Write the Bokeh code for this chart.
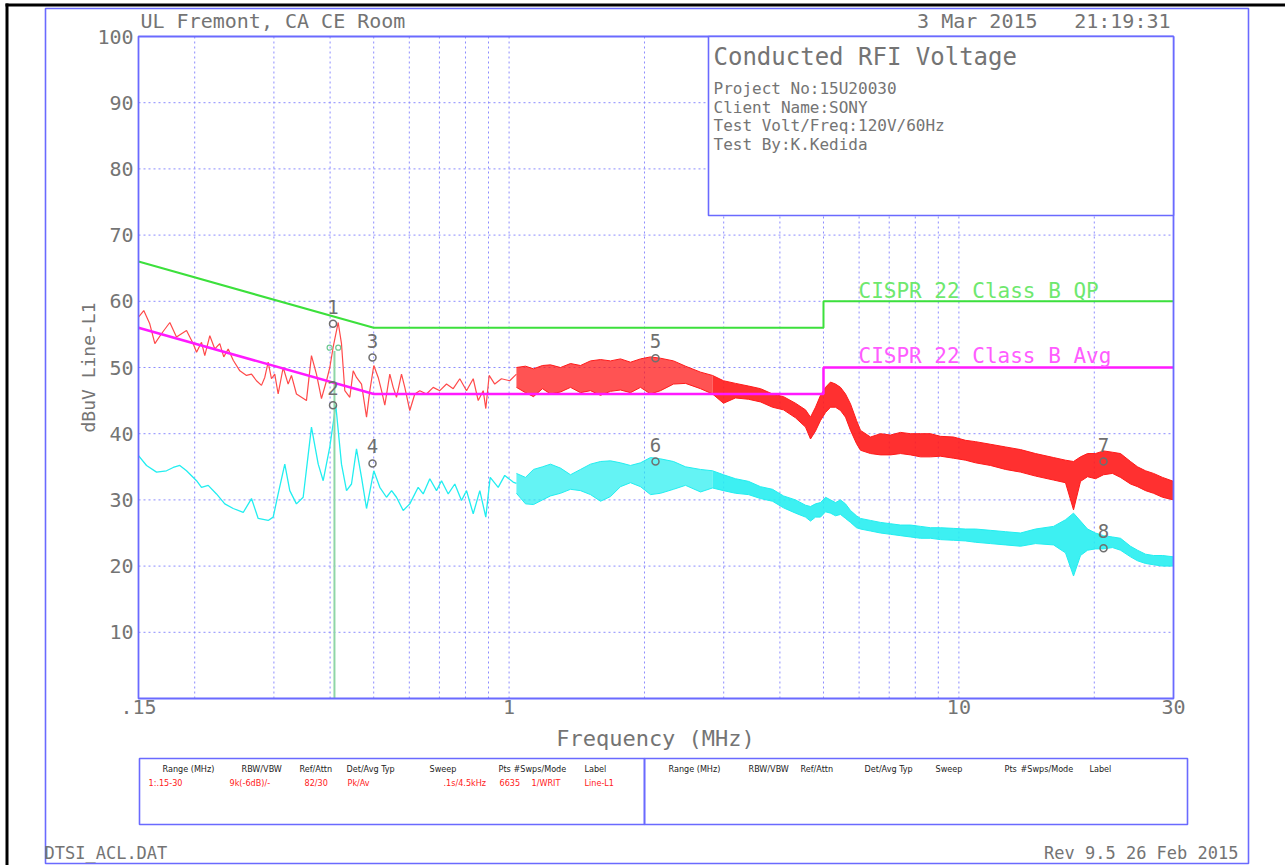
import math
from bokeh.plotting import figure
from bokeh.models import FixedTicker, Label, BoxAnnotation
from bokeh.embed import file_html
from bokeh.resources import INLINE
from bokeh.core.properties import value

# ---------------- data ----------------
freq_limits = [0.15, 30]
db_limits = [0, 100]
x_tick_values = [0.15, 1, 10, 30]
x_tick_labels = [".15", "1", "10", "30"]
x_minor_grid = [0.2, 0.3, 0.4, 0.5, 0.6, 0.7, 0.8, 0.9, 2, 3, 4, 5, 6, 7, 8, 9, 20]
y_tick_values = [0, 10, 20, 30, 40, 50, 60, 70, 80, 90, 100]
y_tick_labels = ["", "10", "20", "30", "40", "50", "60", "70", "80", "90", "100"]

qp_freq = [0.15, 0.5, 5.0, 5.0, 30.0]
qp_db = [66, 56, 56, 60, 60]
avg_freq = [0.15, 0.5, 5.0, 5.0, 30.0]
avg_db = [56, 46, 46, 50, 50]
qp_label = "CISPR 22 Class B QP"
avg_label = "CISPR 22 Class B Avg"

red_lf_freq = [0.150, 0.1541, 0.1589, 0.1631, 0.1687, 0.1761, 0.1822, 0.1918, 0.1985, 0.2019,
               0.2071, 0.2106, 0.2161, 0.2217, 0.2274, 0.2321, 0.2374, 0.2436, 0.2520, 0.2607,
               0.2675, 0.2744, 0.2815, 0.2863, 0.2913, 0.2963, 0.3013, 0.3066, 0.3146, 0.3227,
               0.3282, 0.3367, 0.3455, 0.3544, 0.3636, 0.3730, 0.3827, 0.3927, 0.3994, 0.4064,
               0.4169, 0.4240, 0.4313, 0.4425, 0.4502, 0.4579, 0.4698, 0.4820, 0.4902, 0.5003,
               0.5117, 0.5205, 0.5293, 0.5430, 0.5525, 0.5619, 0.5765, 0.5863, 0.6015, 0.6171,
               0.6331, 0.6552, 0.6781, 0.7014, 0.7259, 0.7512, 0.7770, 0.8042, 0.8322, 0.8538,
               0.8759, 0.8876, 0.9030, 0.9292, 0.9616, 1.0033, 1.0383]
red_lf_db = [57.6, 58.6, 56.6, 53.6, 55.1, 56.8, 54.6, 55.6, 53.6, 52.3,
             53.8, 51.8, 54.8, 52.8, 53.6, 51.6, 52.8, 51.1, 49.5, 48.8,
             49.0, 48.0, 47.3, 48.5, 50.8, 48.3, 49.0, 46.0, 50.0, 47.5,
             48.8, 46.0, 45.5, 45.0, 51.8, 49.0, 45.3, 48.0, 50.0, 53.1,
             56.8, 53.6, 46.5, 45.5, 49.5, 48.5, 47.5, 42.5, 46.5, 50.3,
             48.5, 46.5, 44.3, 49.0, 47.0, 45.5, 49.0, 47.0, 43.5, 46.0,
             46.5, 46.0, 47.0, 46.5, 47.5, 46.8, 48.3, 46.5, 48.3, 45.0,
             46.5, 43.8, 48.8, 47.5, 48.3, 48.0, 49.0]

cyan_lf_freq = [0.150, 0.1563, 0.1645, 0.1731, 0.1792, 0.1853, 0.1918, 0.2019, 0.2071, 0.2143,
                0.2236, 0.2333, 0.2436, 0.2564, 0.2675, 0.2768, 0.2913, 0.2989, 0.3066, 0.3172,
                0.3254, 0.3367, 0.3485, 0.3636, 0.3764, 0.3861, 0.3994, 0.4118, 0.4240, 0.4351,
                0.4463, 0.4579, 0.4698, 0.4820, 0.5003, 0.5159, 0.5339, 0.5480, 0.5619, 0.5815,
                0.6015, 0.6279, 0.6442, 0.6664, 0.6897, 0.7076, 0.7323, 0.7574, 0.7839, 0.8042,
                0.8322, 0.8608, 0.8876, 0.9078, 0.9457, 0.9780, 1.0209, 1.0383]
cyan_lf_db = [36.7, 35.2, 34.2, 34.4, 34.9, 35.2, 34.4, 32.9, 31.9, 32.2,
              30.9, 29.4, 28.7, 28.1, 30.2, 27.2, 26.9, 27.4, 30.9, 35.4,
              31.4, 29.4, 30.4, 41.0, 35.4, 32.9, 38.0, 44.3, 35.4, 31.4,
              32.4, 37.7, 33.4, 28.7, 34.4, 31.9, 30.4, 31.4, 30.4, 28.4,
              29.4, 31.9, 30.9, 33.2, 31.4, 32.9, 30.9, 32.4, 29.9, 31.4,
              27.9, 31.4, 27.4, 33.4, 31.9, 33.7, 32.7, 32.5]

hf_freq = [1.0383, 1.0876, 1.1331, 1.1865, 1.2361, 1.3011, 1.3694, 1.4413, 1.5170, 1.5967,
           1.6805, 1.7688, 1.8617, 1.9595, 2.0624, 2.1707, 2.3202, 2.4672, 2.6641, 2.8329,
           2.9969, 3.1868, 3.4061, 3.6220, 3.8516, 4.0748, 4.3329, 4.5605, 4.6787, 4.8000,
           4.9246, 5.0522, 5.1831, 5.3175, 5.4554, 5.5968, 5.7420, 5.9211, 6.0435, 6.3609,
           6.6950, 7.0467, 7.4168, 7.8063, 8.2162, 8.6478, 9.1019, 9.7283, 10.345, 10.888,
           11.757, 12.695, 13.708, 14.803, 16.231, 17.260, 17.982, 18.638, 19.318, 20.125,
           20.967, 21.955, 22.873, 24.075, 24.953, 25.996, 27.083, 28.360, 30.0]
red_hf_hi = [50.0, 50.2, 49.8, 50.3, 50.4, 50.0, 50.6, 50.3, 51.0, 51.2,
             51.0, 51.3, 50.8, 51.3, 51.6, 51.4, 51.0, 50.2, 49.3, 48.8,
             48.0, 47.6, 47.2, 46.8, 46.0, 45.6, 44.6, 43.6, 42.5, 44.0,
             45.8, 47.0, 47.8, 47.5, 47.0, 46.0, 44.5, 42.0, 40.5, 39.5,
             40.0, 39.8, 40.2, 40.0, 40.0, 40.0, 39.6, 39.5, 39.0, 38.8,
             38.4, 38.0, 37.6, 37.0, 36.4, 36.0, 35.8, 36.5, 37.0, 37.0,
             37.4, 37.2, 37.0, 35.8, 35.0, 34.4, 34.0, 33.4, 32.8]
red_hf_lo = [47.0, 46.2, 45.6, 46.8, 46.0, 46.3, 47.0, 46.2, 46.5, 45.8,
             46.4, 46.6, 46.2, 47.0, 46.0, 46.5, 47.5, 47.6, 46.8, 46.0,
             44.6, 45.4, 45.2, 44.8, 44.0, 43.6, 42.4, 41.0, 39.2, 40.4,
             42.0, 43.2, 44.0, 44.0, 43.5, 42.5, 40.5, 38.5, 37.5, 37.0,
             36.8, 36.8, 37.0, 36.8, 36.5, 36.5, 36.6, 36.3, 36.0, 35.6,
             35.2, 34.6, 34.2, 33.6, 33.0, 32.6, 28.5, 32.8, 33.5, 33.2,
             33.8, 34.0, 33.4, 32.4, 32.0, 31.4, 31.0, 30.4, 30.0]
cyan_hf_hi = [34.0, 33.4, 34.6, 35.0, 35.4, 34.8, 33.8, 34.6, 35.4, 35.8,
              35.9, 35.6, 35.2, 35.6, 36.4, 36.2, 35.8, 35.0, 34.6, 34.4,
              33.8, 33.2, 32.8, 32.0, 31.6, 30.6, 30.0, 29.2, 29.0, 29.4,
              29.6, 30.4, 30.0, 29.6, 30.0, 29.4, 28.4, 27.6, 27.2, 26.9,
              26.6, 26.4, 26.2, 26.2, 26.0, 25.8, 25.8, 25.7, 25.6, 25.6,
              25.4, 25.2, 25.0, 25.6, 26.0, 27.0, 28.0, 26.8, 25.6, 25.0,
              24.6, 24.4, 24.2, 23.0, 22.4, 21.8, 21.6, 21.6, 21.4]
cyan_hf_lo = [31.0, 29.4, 29.3, 30.0, 30.6, 31.0, 31.6, 31.4, 30.8, 29.8,
              30.5, 32.0, 32.6, 32.0, 30.8, 31.0, 31.6, 32.2, 31.2, 31.8,
              31.4, 31.0, 30.8, 30.2, 29.8, 28.8, 28.0, 27.4, 26.8, 27.4,
              27.4, 28.2, 28.0, 27.6, 27.8, 27.2, 26.6, 25.8, 25.6, 25.3,
              25.0, 24.8, 24.6, 24.4, 24.2, 24.2, 24.0, 23.9, 23.8, 23.6,
              23.4, 23.2, 23.0, 23.4, 23.2, 22.0, 18.5, 21.6, 22.4, 22.6,
              22.6, 22.8, 22.4, 21.4, 20.8, 20.4, 20.2, 20.0, 20.0]

marker_ids = ["1", "2", "3", "4", "5", "6", "7", "8"]
marker_freq = [0.406, 0.406, 0.497, 0.497, 2.116, 2.116, 20.97, 20.97]
marker_db = [56.6, 44.3, 51.5, 35.5, 51.4, 35.8, 35.8, 22.7]
cursor_freq = [0.409, 0.409]
cursor_db = [0.0, 52.5]
qp_mark_freq = [0.399, 0.417]
qp_mark_db = [53.0, 53.0]

header_left = "UL Fremont, CA CE Room"
header_date = "3 Mar 2015"
header_time = "21:19:31"
info_title = "Conducted RFI Voltage"
info_lines = ["Project No:15U20030", "Client Name:SONY", "Test Volt/Freq:120V/60Hz", "Test By:K.Kedida"]
x_axis_title = "Frequency (MHz)"
y_axis_title = "dBuV Line-L1"
table_headers = ["Range (MHz)", "RBW/VBW", "Ref/Attn", "Det/Avg Typ", "Sweep", "Pts", "#Swps/Mode", "Label"]
table_row1 = ["1:.15-30", "9k(-6dB)/-", "82/30", "Pk/Av", ".1s/4.5kHz", "6635", "1/WRIT", "Line-L1"]
footer_left = "DTSI_ACL.DAT"
footer_right = "Rev 9.5 26 Feb 2015"

# ---------------- style / layout ----------------
MONO = "DejaVu Sans Mono"
NARROW = "'DejaVu Sans Condensed', 'Liberation Sans', sans-serif"
GRAY = "#747474"
BLUE = "#6a6aff"
GRID = "#8c8cff"
RED = "#ff1a1a"
CYAN = "#22eef0"
GREEN = "#3ce03c"
MAGENTA = "#ff1aff"

W, H = 1285, 865
# plot box in page pixels
PL, PR, PT, PB = 138, 1173, 36, 698
ppd = (PR - PL) / math.log10(freq_limits[1] / freq_limits[0])
ppu = (PB - PT) / (db_limits[1] - db_limits[0])
x_start = freq_limits[0] / 10 ** (PL / ppd)
x_end = freq_limits[1] * 10 ** ((W - PR) / ppd)
y_start = db_limits[0] - (H - PB) / ppu
y_end = db_limits[1] + PT / ppu

p = figure(width=W, height=H, x_axis_type="log", x_range=(x_start, x_end), y_range=(y_start, y_end),
           output_backend="svg", toolbar_location=None, min_border=0)
p.title.visible = False
p.background_fill_color = "white"
p.border_fill_color = "white"
p.outline_line_color = None
p.grid.visible = False

xt = FixedTicker(ticks=x_tick_values)
yt = FixedTicker(ticks=y_tick_values)
p.xaxis.ticker = xt
p.yaxis.ticker = yt
p.xaxis.fixed_location = db_limits[0]
p.yaxis.fixed_location = freq_limits[0]
p.xaxis.major_label_overrides = dict(zip(x_tick_values, x_tick_labels))
p.yaxis.major_label_overrides = dict(zip(y_tick_values, y_tick_labels))
for ax in (p.xaxis, p.yaxis):
    ax.axis_line_color = None
    ax.major_tick_line_color = None
    ax.minor_tick_line_color = None
    ax.major_tick_out = 0
    ax.major_tick_in = 0
    ax.major_label_text_font = MONO
    ax.major_label_text_font_size = "20px"
    ax.major_label_text_color = GRAY
p.xaxis.major_label_standoff = 1
p.yaxis.major_label_standoff = 5

# dotted grid from the tick lists
vx = x_tick_values[1:-1] + x_minor_grid
p.segment(x0=vx, x1=vx, y0=[db_limits[0]] * len(vx), y1=[db_limits[1]] * len(vx),
          line_color=GRID, line_dash="2 3", line_width=1, level="underlay")
hy = y_tick_values[1:-1]
p.segment(x0=[freq_limits[0]] * len(hy), x1=[freq_limits[1]] * len(hy), y0=hy, y1=hy,
          line_color=GRID, line_dash="2 3", line_width=1, level="underlay")


def slabel(px, py, text, size, color=GRAY, align="left", font=MONO, baseline="middle", angle=0.0):
    p.add_layout(Label(x=px, y=H - py, x_units="screen", y_units="screen", text=text,
                       text_font=font, text_font_size=size, text_color=color,
                       text_align=align, text_baseline=baseline, angle=angle, level="overlay"))


def sbox(left, top, right, bottom, color, width, fill=None):
    p.add_layout(BoxAnnotation(left=left, right=right, top=H - top, bottom=H - bottom,
                               left_units="screen", right_units="screen",
                               top_units="screen", bottom_units="screen",
                               fill_color=fill, fill_alpha=1.0 if fill else 0.0,
                               line_color=color, line_alpha=1.0 if color else 0.0,
                               line_width=width, level="guide"))


# traces: low-frequency part (clear line), noisy band above ~1 MHz
SPLIT = 19
p.varea(x=hf_freq[:SPLIT + 1], y1=cyan_hf_lo[:SPLIT + 1], y2=cyan_hf_hi[:SPLIT + 1],
        fill_color=CYAN, fill_alpha=0.7)
p.varea(x=hf_freq[SPLIT:], y1=cyan_hf_lo[SPLIT:], y2=cyan_hf_hi[SPLIT:],
        fill_color=CYAN, fill_alpha=0.88)
p.line(hf_freq, cyan_hf_hi, line_color=CYAN, line_width=1)
p.line(hf_freq, cyan_hf_lo, line_color=CYAN, line_width=1)
p.line(cyan_lf_freq, cyan_lf_db, line_color=CYAN, line_width=1.3)

p.varea(x=hf_freq[:SPLIT + 1], y1=red_hf_lo[:SPLIT + 1], y2=red_hf_hi[:SPLIT + 1],
        fill_color=RED, fill_alpha=0.75)
p.varea(x=hf_freq[SPLIT:], y1=red_hf_lo[SPLIT:], y2=red_hf_hi[SPLIT:],
        fill_color=RED, fill_alpha=0.9)
p.line(hf_freq, red_hf_hi, line_color=RED, line_width=1)
p.line(hf_freq, red_hf_lo, line_color=RED, line_width=1)
p.line(red_lf_freq, red_lf_db, line_color="#ff4a4a", line_width=1.2)

p.line(cursor_freq, cursor_db, line_color="#8fd6a6", line_width=2)
p.scatter(qp_mark_freq, qp_mark_db, marker="circle", size=5, fill_color=None,
          line_color="#6cc890", line_width=1.2)

# limits
p.line(avg_freq, avg_db, line_color=MAGENTA, line_width=2.5)
p.line(qp_freq, qp_db, line_color=GREEN, line_width=2)

# markers
p.scatter(marker_freq, marker_db, marker="circle", size=7, fill_color=None,
          line_color="#6f6f6f", line_width=1.5)
p.text(x=marker_freq, y=marker_db, text=marker_ids, y_offset=-17, text_align="center",
       text_baseline="middle", text_font=value(MONO), text_font_size="19px", text_color="#6f6f6f")

# plot box
p.add_layout(BoxAnnotation(left=freq_limits[0], right=freq_limits[1], bottom=db_limits[0],
                           top=db_limits[1], fill_alpha=0.0, fill_color=None,
                           line_color=BLUE, line_alpha=1.0, line_width=1.8, level="guide"))

# info box
sbox(708, 36, 1173, 215, BLUE, 1.6, fill="white")
slabel(713, 56, info_title, "24px")
for i, t in enumerate(info_lines):
    slabel(713, 88 + i * 18.5, t, "16px")

# limit labels
slabel(858, 290, qp_label, "21px", color="#6ee86e")
slabel(858, 355, avg_label, "21px", color="#ff5cff")

# header
slabel(140, 20, header_left, "20px")
slabel(1037, 20, header_date, "20px", align="right")
slabel(1170, 20, header_time, "20px", align="right")

# axis titles
slabel(655, 738, x_axis_title, "22px", align="center")
slabel(88, 367, y_axis_title, "18px", align="center", angle=math.pi / 2)

# page frames: black edge on top and left only, blue page border
sbox(5, 3, W, 6, None, 0, fill="black")
sbox(5, 3, 8, H, None, 0, fill="black")
sbox(45, 8, 1248, 863, BLUE, 1.6)

# settings table
sbox(139, 758, 644, 824, BLUE, 1.6)
sbox(644, 758, 1187, 824, BLUE, 1.6)
left_hdr_x = [162, 241, 299, 346, 429, 498, 513, 584]
left_row_x = [148, 229, 304, 347, 443, 499, 531, 584]
right_hdr_x = [668, 748, 800, 864, 935, 1004, 1020, 1089]
for t, x in zip(table_headers, left_hdr_x):
    slabel(x, 768, t, "9px", color="#222222", font=NARROW)
for t, x in zip(table_row1, left_row_x):
    slabel(x, 782, t, "9px", color="#ff2020", font=NARROW)
for t, x in zip(table_headers, right_hdr_x):
    slabel(x, 768, t, "9px", color="#222222", font=NARROW)

# footer
slabel(44, 852, footer_left, "17px")
slabel(1238, 852, footer_right, "17px", align="right")

open("out.html", "w").write(file_html(p, INLINE))
